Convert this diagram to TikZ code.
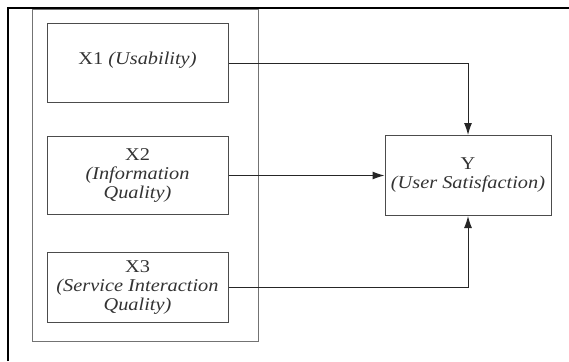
\documentclass[tikz,border=0pt]{standalone}
\usepackage{fontspec}
\setmainfont{Liberation Serif}[FakeStretch=1.13]
\usetikzlibrary{arrows.meta}

\begin{document}
\begin{tikzpicture}[x=1pt, y=-1pt, >={Latex[length=12pt,width=8pt]},
	every node/.style={inner sep=1pt},
	varbox/.style={rectangle, draw=black!70, line width=1pt, text=black!80, align=center,
		font=\fontsize{18}{19}\selectfont, minimum width=181pt},
	link/.style={->, line width=1pt, black!85}]
	\useasboundingbox (0,0) rectangle (569,361);
	% frame (cut at right and bottom)
	\draw[line width=2.5pt] (8,361) -- (8,8) -- (569,8);

	% Left: independent variables
	\node[rectangle, draw=black!55, line width=1pt, minimum width=226pt, minimum height=331pt] (grp) at (145,175.5) {};
	\node[varbox, minimum height=78pt, text depth=10pt] (x1) at (137.5,63) {X1 \textit{(Usability)}};
	\node[varbox, minimum height=78pt] (x2) at (137.5,175.5) {X2\\\textit{(Information}\\\textit{Quality)}};
	\node[varbox, minimum height=70pt] (x3) at (137.5,287) {X3\\\textit{(Service Interaction}\\\textit{Quality)}};

	% Right: dependent variable
	\node[varbox, minimum width=166pt, minimum height=80pt] (y) at (468,175.5) {Y\\\textit{(User Satisfaction)}};

	\draw[link] (x1.east) -| (y.north);
	\draw[link] (x2.east) -- (y.west);
	\draw[link] (x3.east) -| (y.south);
\end{tikzpicture}
\end{document}
